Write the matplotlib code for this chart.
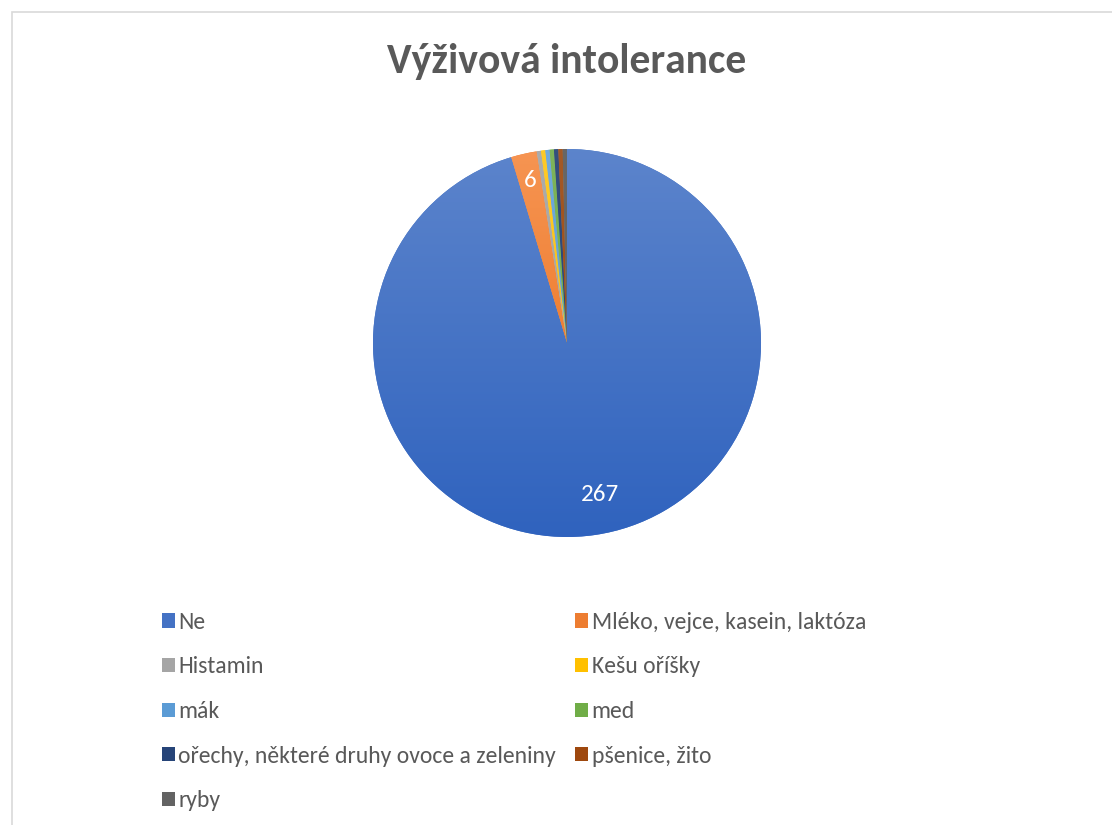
import colorsys

import matplotlib.pyplot as plt
import numpy as np
from matplotlib import font_manager
from matplotlib.colors import to_rgb
from matplotlib.patches import Patch, Rectangle

TITLE = "Výživová intolerance"
CATEGORIES = [
    "Ne",
    "Mléko, vejce, kasein, laktóza",
    "Histamin",
    "Kešu oříšky",
    "mák",
    "med",
    "ořechy, některé druhy ovoce a zeleniny",
    "pšenice, žito",
    "ryby",
]
COUNTS = [267, 6, 1, 1, 1, 1, 1, 1, 1]
COLORS = ["#4472C4", "#ED7D31", "#A5A5A5", "#FFC000", "#5B9BD5",
          "#70AD47", "#264478", "#9E480E", "#636363"]
LABELLED = [True, True, False, False, False, False, False, False, False]
LABEL_RADIUS = [0.8, 0.86, 0, 0, 0, 0, 0, 0, 0]

available = {f.name for f in font_manager.fontManager.ttflist}
FONT = "Carlito" if "Carlito" in available else "Lato"
plt.rcParams["font.family"] = [FONT, "DejaVu Sans"]
TEXT_GREY = "#595959"

W, H = 1112, 825
fig = plt.figure(figsize=(W / 100, H / 100), dpi=100)

# chart area frame
fig.add_artist(Rectangle((12 / W, -0.01), 1.02, 1 - 12 / H + 0.01,
                         transform=fig.transFigure, fill=False,
                         edgecolor="#D9D9D9", linewidth=1.2))

fig.text(567 / W, 1 - 61 / H, TITLE, ha="center", va="center",
         fontsize=30, fontweight="bold", color=TEXT_GREY)

cx, cy, r = 567, 343, 194
ax = fig.add_axes([(cx - r) / W, (H - cy - r) / H, 2 * r / W, 2 * r / H])
wedges, _ = ax.pie(COUNTS, colors=COLORS, startangle=90, counterclock=False,
                   radius=1.0)
ax.set_xlim(-1, 1)
ax.set_ylim(-1, 1)
ax.set_aspect("equal")
ax.axis("off")


def shade(color, s_mul, v_mul):
    h, s, v = colorsys.rgb_to_hsv(*to_rgb(color))
    return colorsys.hsv_to_rgb(h, min(1, s * s_mul), min(1, v * v_mul))


# soft vertical gradient on each slice, lighter at the top
t = np.linspace(0, 1, 256)[:, None]
for w, c in zip(wedges, COLORS):
    top = np.array(shade(c, 0.84, 1.04))
    bot = np.array(shade(c, 1.15, 0.97))
    grad = (top[None, None, :] * (1 - t[..., None]) + bot[None, None, :] * t[..., None])
    grad = np.repeat(grad, 2, axis=1)
    im = ax.imshow(grad, extent=(-1, 1, -1, 1), origin="upper",
                   aspect="auto", zorder=2, interpolation="bilinear")
    im.set_clip_path(w)

for w, n, show, rad in zip(wedges, COUNTS, LABELLED, LABEL_RADIUS):
    if not show:
        continue
    mid = np.deg2rad((w.theta1 + w.theta2) / 2 + (4 if n > 100 else 0))
    ax.text(rad * np.cos(mid), rad * np.sin(mid), str(n), ha="center",
            va="center", color="white", fontsize=18, zorder=3)

# legend filled row by row across two columns
order = [0, 2, 4, 6, 8, 1, 3, 5, 7]
handles = [Patch(facecolor=COLORS[i], edgecolor="none") for i in order]
labels = [CATEGORIES[i] for i in order]
fig.legend(handles, labels, ncol=2, loc="upper left",
           bbox_to_anchor=(150 / W, 1 - 600 / H), frameon=False,
           fontsize=17, labelcolor=TEXT_GREY, handlelength=0.55,
           handleheight=0.55, handletextpad=0.15, labelspacing=1.0,
           columnspacing=0.8, borderpad=0)

fig.savefig("out.png", dpi=100)
